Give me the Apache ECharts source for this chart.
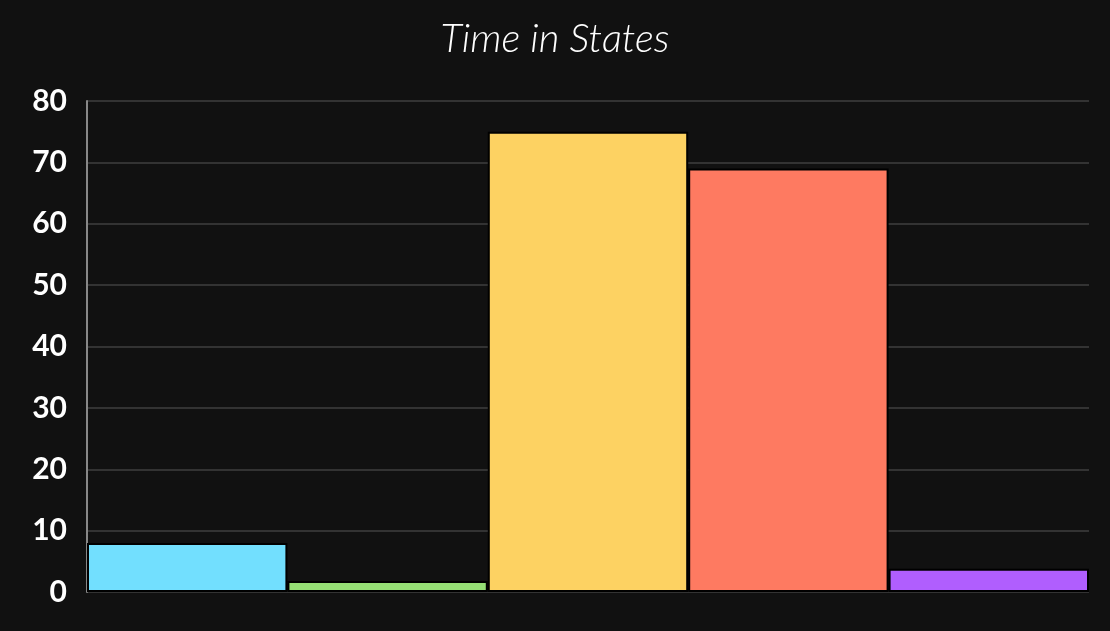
<!DOCTYPE html>
<html><head><meta charset="utf-8">
<script src="https://cdn.jsdelivr.net/npm/echarts@6/dist/echarts.min.js"></script>
<style>html,body{margin:0;background:#111111}#c{width:1110px;height:631px}</style>
</head><body><div id="c"></div>
<script>
const categories = ['A','B','C','D','E'];
const values = [8, 1.8, 75, 69, 3.8];
const colors = ['#72DFFE','#95DE74','#FDD262','#FE7A61','#B05EFE'];
const yTicks = [0,10,20,30,40,50,60,70,80];
const chart = echarts.init(document.getElementById('c'));
chart.setOption({
  backgroundColor:'#111111',
  title:{text:'Time in States',left:'center',top:14,textStyle:{color:'#ffffff',fontSize:40,fontStyle:'italic',fontWeight:300,fontFamily:'Lato',letterSpacing:3}},
  grid:{left:87,right:21,top:101,bottom:39},
  xAxis:{type:'category',data:categories,axisLabel:{show:false},axisTick:{show:false},axisLine:{show:false}},
  yAxis:{type:'value',min:yTicks[0],max:yTicks[yTicks.length-1],interval:10,
    axisLine:{show:true,lineStyle:{color:'#888',width:2}},
    splitLine:{lineStyle:{color:'#333333',width:2}},
    axisLabel:{color:'#ffffff',fontSize:30,fontWeight:'bold',fontFamily:'Lato',margin:20}},
  series:[{type:'bar',barCategoryGap:'0%',
    data:values.map((v,i)=>({value:v,itemStyle:{color:colors[i]}})),
    itemStyle:{borderColor:'#000',borderWidth:2}}]
});
</script></body></html>
